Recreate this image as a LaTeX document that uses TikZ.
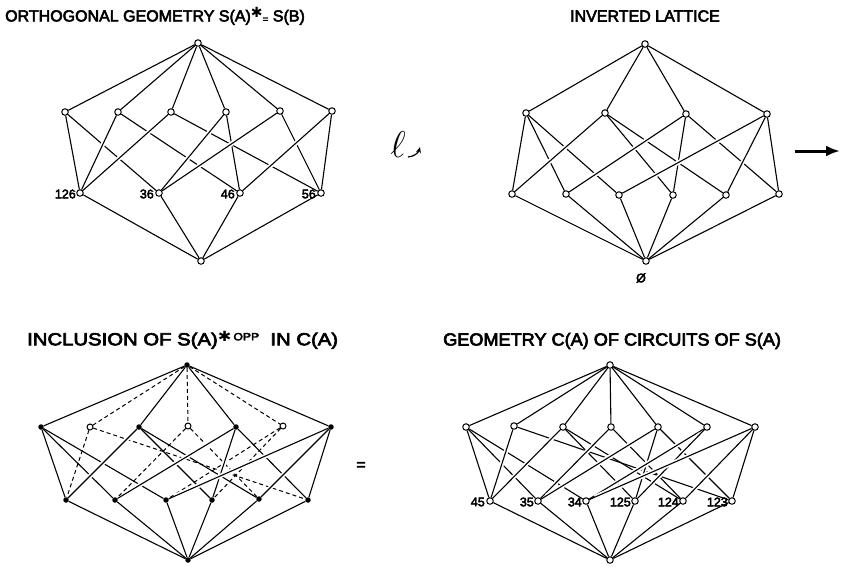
\documentclass[tikz,border=0pt]{standalone}
\usepackage{fontspec}
\setmainfont{Liberation Sans}
\newfontfamily\ttl{Liberation Sans}[FakeBold=3.5]
\newfontfamily\dv{DejaVu Sans}
\usetikzlibrary{arrows.meta}
\pgfdeclarelayer{edges}
\pgfsetlayers{edges,main}
\begin{document}
\begin{tikzpicture}[x=1pt,y=-1pt,
  vo/.style={circle,draw,fill=white,inner sep=0pt,minimum size=6.5pt,line width=1pt},
  vf/.style={circle,fill=black,inner sep=0pt,minimum size=5.5pt},
  ed/.style={line width=1.1pt},
  ov/.style={line width=1.1pt,preaction={draw=white,line width=4.5pt,shorten <=6pt,shorten >=6pt}},
  dsh/.style={line width=1pt,dash pattern=on 4pt off 3pt},
  ttlstyle/.style={font=\ttl\fontsize{16}{17}\selectfont,inner sep=0pt},
  ttlbig/.style={font=\ttl\fontsize{17.5}{18}\selectfont,inner sep=0pt},
  lab/.style={font=\ttl\fontsize{12.5}{13}\selectfont,inner sep=0pt},
]
\useasboundingbox (0,0) rectangle (841,566);

% ---------- titles ----------
\node[ttlstyle,anchor=west] (t1) at (5,16) {ORTHOGONAL GEOMETRY S(A)\raisebox{4pt}{\dv\fontsize{14}{14}\selectfont ✱}\raisebox{-1pt}{\fontsize{10}{10}\selectfont =}\ S(B)};
\node[ttlstyle] (t2) at (645,16) {INVERTED LATTICE};
\node[ttlbig,anchor=west] (t3) at (27,340) {\scalebox{1.16}[1]{INCLUSION OF S(A)\raisebox{4pt}{\dv\fontsize{14}{14}\selectfont ✱}\raisebox{5pt}{\fontsize{10.5}{10.5}\selectfont\,OPP}\ \ IN C(A)}};
\node[ttlbig,anchor=west] (t4) at (443,341) {\scalebox{1.035}[1]{GEOMETRY C(A) OF CIRCUITS OF S(A)}};
\node[ttlstyle] (eq) at (361,466) {=};

% ---------- top-left lattice ----------
\node[vo] (aT) at (198,43) {};
\node[vo] (am1) at (65,112) {};
\node[vo] (am2) at (118,112) {};
\node[vo] (am3) at (171,112) {};
\node[vo] (am4) at (226,112) {};
\node[vo] (am5) at (280,111) {};
\node[vo] (am6) at (332,111) {};
\node[vo] (aa1) at (80,193) {};
\node[vo] (aa2) at (159,193) {};
\node[vo] (aa3) at (240,193) {};
\node[vo] (aa4) at (321,193) {};
\node[vo] (aB) at (201,261) {};
\node[lab,anchor=east] (l126) at (76,194) {126};
\node[lab,anchor=east] (l36) at (154,194) {36};
\node[lab,anchor=east] (l46) at (235,194) {46};
\node[lab,anchor=east] (l56) at (316,194) {56};

% ---------- top-right lattice ----------
\node[vo] (bT) at (645,44) {};
\node[vo] (bm1) at (526,113) {};
\node[vo] (bm2) at (605,113) {};
\node[vo] (bm3) at (686,114) {};
\node[vo] (bm4) at (767,114) {};
\node[vo] (bb1) at (512,194) {};
\node[vo] (bb2) at (566,194) {};
\node[vo] (bb3) at (619,195) {};
\node[vo] (bb4) at (673,195) {};
\node[vo] (bb5) at (726,195) {};
\node[vo] (bb6) at (779,194) {};
\node[vo] (bB) at (646,261) {};
\node[lab] (lempty) at (641,278) {Ø};

% ---------- bottom-left lattice ----------
\node[vf] (cT) at (187,365) {};
\node[vf] (cf1) at (41,427) {};
\node[vo,minimum size=6pt] (co1) at (90,427) {};
\node[vf] (cf2) at (139,427) {};
\node[vo,minimum size=6pt] (co2) at (188,426) {};
\node[vf] (cf3) at (236,427) {};
\node[vo,minimum size=6pt] (co3) at (283,426) {};
\node[vf] (cf4) at (331,427) {};
\node[vf] (cp1) at (66,500) {};
\node[vf] (cp2) at (115,500) {};
\node[vf] (cp3) at (166,500) {};
\node[vf] (cp4) at (212,500) {};
\node[vf] (cp5) at (259,499) {};
\node[vf] (cp6) at (308,500) {};
\node[vf] (cB) at (188,560) {};

% ---------- bottom-right lattice ----------
\node[vo] (dT) at (610,365) {};
\node[vo] (dn1) at (466,427) {};
\node[vo] (dn2) at (514,426) {};
\node[vo] (dn3) at (563,427) {};
\node[vo] (dn4) at (611,427) {};
\node[vo] (dn5) at (658,427) {};
\node[vo] (dn6) at (707,427) {};
\node[vo] (dn7) at (755,427) {};
\node[vo] (dp1) at (490,501) {};
\node[vo] (dp2) at (538,501) {};
\node[vo] (dp3) at (586,501) {};
\node[vo] (dp4) at (635,501) {};
\node[vo] (dp5) at (683,501) {};
\node[vo] (dp6) at (732,501) {};
\node[vo] (dB) at (610,560) {};
\node[lab,anchor=east] (l45) at (485,502) {45};
\node[lab,anchor=east] (l35) at (534,502) {35};
\node[lab,anchor=east] (l34) at (582,502) {34};
\node[lab,anchor=east] (l125) at (631,502) {125};
\node[lab,anchor=east] (l124) at (679,502) {124};
\node[lab,anchor=east] (l123) at (728,502) {123};

% ---------- ell and arrow ----------
\node[font=\fontsize{24}{24}\selectfont,inner sep=0pt] (ell) at (398,145) {\scalebox{1.5}{$\ell$}};
\coordinate (ellA) at (408,157);
\coordinate (ellB) at (420,147);
\draw[line width=1.2pt,-{Stealth[length=6pt,width=5pt]}] (ellA) to[bend right=35] (ellB);
\coordinate (arS) at (795,151);
\coordinate (arE) at (840,151);
\draw[line width=3pt,-{Latex[length=14pt,width=11pt]}] (arS) -- (arE);

\begin{pgfonlayer}{edges}
% top-left
\foreach \i in {1,...,6} \draw[ed] (aT) -- (am\i);
\foreach \i in {1,...,4} \draw[ed] (aB) -- (aa\i);
\draw[ed] (am1) -- (aa1);
\draw[ed] (am1) -- (aa2);
\draw[ed] (am2) -- (aa3);
\draw[ed] (am3) -- (aa4);
\draw[ed] (am4) -- (aa3);
\draw[ed] (am5) -- (aa4);
\draw[ov] (aa1) -- (am2);
\draw[ov] (aa1) -- (am3);
\draw[ov] (aa2) -- (am4);
\draw[ov] (aa2) -- (am5);
\draw[ov] (aa3) -- (am6);
\draw[ov] (aa4) -- (am6);
% top-right
\foreach \i in {1,...,4} \draw[ed] (bT) -- (bm\i);
\foreach \i in {1,...,6} \draw[ed] (bB) -- (bb\i);
\draw[ed] (bm1) -- (bb2);
\draw[ed] (bm1) -- (bb3);
\draw[ed] (bm2) -- (bb4);
\draw[ed] (bm2) -- (bb5);
\draw[ed] (bm3) -- (bb6);
\draw[ed] (bm4) -- (bb6);
\draw[ov] (bb1) -- (bm1);
\draw[ov] (bb1) -- (bm2);
\draw[ov] (bb2) -- (bm3);
\draw[ov] (bb4) -- (bm3);
\draw[ov] (bb3) -- (bm4);
\draw[ov] (bb5) -- (bm4);
% bottom-left
\foreach \i in {1,2,3} \draw[dsh] (cT) -- (co\i);
\draw[dsh] (co1) -- (cp1);
\draw[dsh] (co1) -- (cp6);
\draw[dsh] (co2) -- (cp2);
\draw[dsh] (co2) -- (cp5);
\draw[dsh] (co3) -- (cp3);
\draw[dsh] (co3) -- (cp4);
\foreach \i in {1,...,4} \draw[ed] (cT) -- (cf\i);
\foreach \i in {1,...,6} \draw[ed] (cB) -- (cp\i);
\draw[ed] (cf1) -- (cp1);
\draw[ed] (cf1) -- (cp2);
\draw[ed] (cf1) -- (cp3);
\draw[ed] (cf2) -- (cp4);
\draw[ed] (cf2) -- (cp5);
\draw[ed] (cf3) -- (cp6);
\draw[ov] (cp1) -- (cf2);
\draw[ov] (cp2) -- (cf3);
\draw[ov] (cp4) -- (cf3);
\draw[ov] (cp3) -- (cf4);
\draw[ov] (cp5) -- (cf4);
\draw[ov] (cp6) -- (cf4);
% bottom-right
\foreach \i in {1,...,7} \draw[ed] (dT) -- (dn\i);
\foreach \i in {1,...,6} \draw[ed] (dB) -- (dp\i);
\draw[ed] (dn1) -- (dp1);
\draw[ed] (dn1) -- (dp2);
\draw[ed] (dn1) -- (dp3);
\draw[ed] (dn2) -- (dp6);
\draw[ed] (dn3) -- (dp4);
\draw[ed] (dn3) -- (dp5);
\draw[ed] (dn4) -- (dp5);
\draw[ed] (dn5) -- (dp6);
\draw[ov] (dp1) -- (dn2);
\draw[ov] (dp1) -- (dn3);
\draw[ov] (dp2) -- (dn4);
\draw[ov] (dp2) -- (dn5);
\draw[ov] (dp4) -- (dn5);
\draw[ov] (dp3) -- (dn6);
\draw[ov] (dp4) -- (dn6);
\draw[ov] (dp3) -- (dn7);
\draw[ov] (dp5) -- (dn7);
\draw[ov] (dp6) -- (dn7);
\end{pgfonlayer}
\end{tikzpicture}
\end{document}
